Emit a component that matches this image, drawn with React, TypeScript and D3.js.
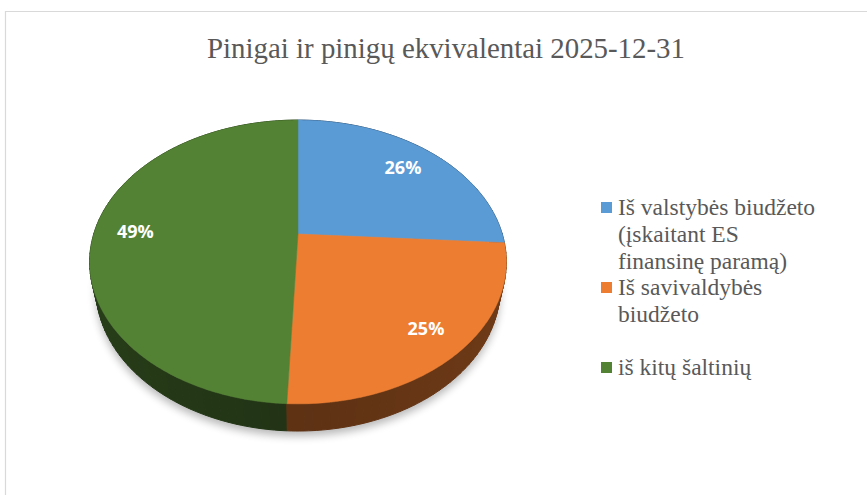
import * as d3 from 'd3';

const title = 'Pinigai ir pinigų ekvivalentai 2025-12-31';
const categories = [
  ['Iš valstybės biudžeto', '(įskaitant ES', 'finansinę paramą)'],
  ['Iš savivaldybės', 'biudžeto'],
  ['iš kitų šaltinių'],
];
const values = [26.0, 24.7, 49.3];
const colors = ['#5b9bd5', '#ed7d31', '#548235'];

const W = 867;
const H = 495;
const serif = "'Liberation Serif'";

// camera for the tilted pie
const cam = { f: 802, fx: 0.978, d: 3.84, s: 0.653, c: 0.757, h: 0.175, cx: 298, cy: 234 };

const project = (r: number, a: number, h: number) => {
  const x = r * Math.sin(a);
  const z = r * Math.cos(a);
  const Y = z * cam.s + h * cam.c;
  const depth = cam.d + z * cam.c - h * cam.s;
  return [cam.cx + (cam.f * cam.fx * x) / depth, cam.cy - (cam.f * Y) / depth, depth];
};

const line = d3.line();
const step = Math.PI / 180;
const outline = (a0: number, a1: number, h: number) => {
  const pts: [number, number][] = [];
  const n = Math.max(2, Math.ceil((a1 - a0) / step));
  for (let i = 0; i <= n; i++) {
    const p = project(1, a0 + ((a1 - a0) * i) / n, h);
    pts.push([p[0], p[1]]);
  }
  return pts;
};

const App = () => {
  const arcs = d3.pie<number>().sort(null).value(d => d)(values);
  const total = d3.sum(values);

  // side wall, split in small pieces and painted far to near
  const pieces: { d: string; depth: number; fill: string }[] = [];
  const sideStep = Math.PI / 90;
  arcs.forEach((a, i) => {
    const n = Math.max(1, Math.ceil((a.endAngle - a.startAngle) / sideStep));
    for (let k = 0; k < n; k++) {
      const t0 = a.startAngle + ((a.endAngle - a.startAngle) * k) / n;
      const t1 = a.startAngle + ((a.endAngle - a.startAngle) * (k + 1)) / n;
      const mid = (t0 + t1) / 2;
      const top = outline(t0, t1, 0);
      const bottom = outline(t0, t1, -cam.h).reverse();
      const shade = 2.6 - 0.5 * Math.abs(Math.sin(mid));
      pieces.push({
        d: line([...top, ...bottom]) + 'Z',
        depth: project(1, mid, 0)[2],
        fill: d3.color(colors[i])!.darker(shade).formatHex(),
      });
    }
  });
  pieces.sort((a, b) => b.depth - a.depth);

  const labelPos = (a: d3.PieArcDatum<number>) => {
    const p = project(1, (a.startAngle + a.endAngle) / 2, 0);
    return [cam.cx + (p[0] - cam.cx) * 0.8, cam.cy + (p[1] - cam.cy) * 0.8];
  };

  return (
    <svg
      width={W}
      height={H}
      style={{ position: 'absolute', left: 0, top: 0, background: '#fff' }}
    >
      <defs>
        <filter id="shadow" x="-20%" y="-20%" width="140%" height="140%">
          <feGaussianBlur stdDeviation={4} />
        </filter>
      </defs>

      <path d={`M5.5,${H} L5.5,11.5 L${W},11.5`} fill="none" stroke="#d9d9d9" strokeWidth={1.2} />

      <text
        x={446}
        y={58}
        textAnchor="middle"
        fontSize={30}
        fill="#595959"
        textLength={478}
        lengthAdjust="spacingAndGlyphs"
        style={{ fontFamily: serif }}
      >
        {title}
      </text>

      <g>
        <path
          d={line(outline(0, 2 * Math.PI, -cam.h)) + 'Z'}
          transform="translate(0,5)"
          fill="#000"
          opacity={0.28}
          filter="url(#shadow)"
        />
        {pieces.map((p, i) => (
          <path key={'s' + i} d={p.d} fill={p.fill} stroke={p.fill} strokeWidth={1} />
        ))}
        {arcs.map((a, i) => (
          <path
            key={'t' + i}
            d={line([[cam.cx, cam.cy], ...outline(a.startAngle, a.endAngle, 0)]) + 'Z'}
            fill={colors[i]}
            stroke={colors[i]}
            strokeWidth={0.5}
          />
        ))}
        {arcs.map((a, i) => {
          const [x, y] = labelPos(a);
          return (
            <text
              key={'l' + i}
              x={x}
              y={y + 6}
              textAnchor="middle"
              fontWeight="bold"
              fontSize={18}
              fill="#fff"
              style={{ fontFamily: "'Open Sans'" }}
            >
              {`${Math.round((a.data / total) * 100)}%`}
            </text>
          );
        })}
      </g>

      <g>
        {categories.map((lines, i) => (
          <g key={i} transform={`translate(601,${202 + i * 80})`}>
            <rect width={11} height={11} fill={colors[i]} />
            <text fontSize={23.5} fill="#595959" style={{ fontFamily: serif }}>
              {lines.map((t, j) => (
                <tspan key={j} x={17} y={13 + j * 27}>
                  {t}
                </tspan>
              ))}
            </text>
          </g>
        ))}
      </g>
    </svg>
  );
};

export default App;
